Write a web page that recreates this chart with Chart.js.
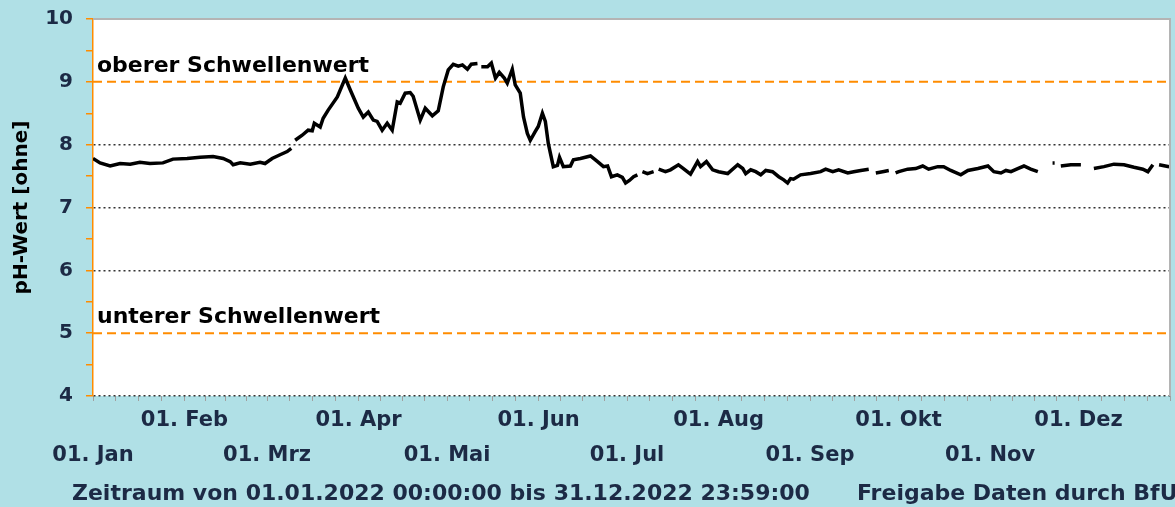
<!DOCTYPE html>
<html>
<head>
<meta charset="utf-8">
<script src="https://cdn.jsdelivr.net/npm/chart.js@4.4.1/dist/chart.umd.min.js"></script>
<style>
html, body { margin: 0; padding: 0; background: #b0e0e6; }
#wrap { width: 1175px; height: 507px; position: relative; }
</style>
</head>
<body>
<div id="wrap"><canvas id="myChart"></canvas></div>
<script>
/*
 pH-Wert 2022, daily values.
 days = day of the year (0 = 01. Jan), ph = value, null = gap in the record
*/
const days = [
  0, 2.4, 5.8, 9.2, 12.6, 15.9, 19.3, 23.7, 27.1, 31.9, 36.3, 40.7, 44.1, 46.5, 47.5, 49.9, 53.3, 56.6, 58.3, 60.7, 63.4, 65.8, 67.2, 67.9,
  68.5, 70.9, 72.9, 74.3, 75.0, 77.0, 78.0, 79.7, 82.8, 85.5, 87.2, 89.9, 91.6, 93.3, 95.0, 96.3, 98.0, 99.7, 101.4, 103.1, 104.1, 105.8, 107.5, 108.5, 110.9, 112.6, 115.0, 117.0, 118.7, 120.4, 122.1, 123.8, 125.2, 126.9, 128.2, 130.3, 131.0,
  131.6, 133.7, 135.0, 136.4, 137.7, 139.4, 140.4, 142.1, 143.1, 144.8, 145.9, 147.2, 148.2, 149.9, 150.9, 152.3, 153.3, 154.3, 156.0, 157.4, 158.1, 159.4, 161.8, 162.8, 165.2, 168.6, 171.0, 173.0, 174.4, 175.7, 177.7, 179.4, 180.5, 181.8, 183.2, 184.5, 185.3,
  186.2, 187.9, 190.0, 190.8,
  191.7, 194.0, 195.7, 198.4, 200.1, 202.5, 204.9, 205.9, 207.9, 210.0, 212.0, 215.1, 218.5, 220.2, 221.2, 222.9, 224.6, 226.3, 228.0, 230.3, 232.4, 234.1, 235.4, 236.4, 237.4, 239.8, 243.2, 246.6, 248.3, 250.7, 252.7, 255.8, 257.8, 260.2, 262.9, 264.0,
  265.3, 267.6, 269.7, 270.8,
  272.0, 273.1, 276.1, 278.8, 281.2, 283.2, 286.3, 288.3, 290.7, 294.1, 296.5, 299.9, 303.3, 305.3, 307.7, 309.4, 311.1, 313.4, 315.5, 317.8, 320.2, 322.0,
  325.2, 325.9, 327.0,
  328.0, 331.4, 334.8, 337.0,
  339.2, 342.6, 346.0, 349.4, 352.8, 355.8, 357.5, 359.2, 360.3,
  361.3, 364.7
];
const ph = [
  7.78, 7.71, 7.66, 7.70, 7.69, 7.72, 7.70, 7.71, 7.77, 7.78, 7.80, 7.81, 7.78, 7.73, 7.68, 7.71, 7.69, 7.72, 7.70, 7.78, 7.84, 7.89, 7.94, null,
  8.07, 8.15, 8.23, 8.22, 8.34, 8.28, 8.42, 8.55, 8.76, 9.06, 8.87, 8.58, 8.44, 8.52, 8.39, 8.37, 8.23, 8.34, 8.23, 8.68, 8.66, 8.82, 8.83, 8.77, 8.39, 8.58, 8.46, 8.54, 8.92, 9.19, 9.28, 9.25, 9.27, 9.20, 9.28, 9.29, null,
  9.24, 9.24, 9.30, 9.06, 9.15, 9.06, 8.98, 9.20, 8.95, 8.82, 8.44, 8.18, 8.07, 8.21, 8.29, 8.50, 8.37, 8.02, 7.65, 7.67, 7.80, 7.65, 7.66, 7.76, 7.78, 7.82, 7.73, 7.65, 7.66, 7.49, 7.52, 7.48, 7.39, 7.43, 7.49, 7.52, null,
  7.57, 7.54, 7.57, null,
  7.61, 7.57, 7.60, 7.68, 7.62, 7.53, 7.73, 7.65, 7.73, 7.60, 7.57, 7.54, 7.68, 7.62, 7.54, 7.60, 7.57, 7.52, 7.59, 7.57, 7.49, 7.44, 7.39, 7.46, 7.45, 7.52, 7.54, 7.57, 7.61, 7.57, 7.60, 7.55, 7.57, 7.59, 7.61, null,
  7.55, 7.57, 7.59, null,
  7.55, 7.57, 7.61, 7.62, 7.66, 7.61, 7.65, 7.65, 7.59, 7.52, 7.59, 7.62, 7.66, 7.57, 7.55, 7.59, 7.57, 7.62, 7.66, 7.61, 7.57, null,
  7.71, 7.71, null,
  7.66, 7.68, 7.68, null,
  7.62, 7.65, 7.69, 7.68, 7.64, 7.61, 7.57, 7.68, null,
  7.68, 7.65
];

const monthStarts = [0, 31, 59, 90, 120, 151, 181, 212, 243, 273, 304, 334, 365];
const monthLabels = ['01. Jan', '01. Feb', '01. Mrz', '01. Apr', '01. Mai', '01. Jun',
                     '01. Jul', '01. Aug', '01. Sep', '01. Okt', '01. Nov', '01. Dez'];

const upperLimit = 9;
const lowerLimit = 5;
const upperText = 'oberer Schwellenwert';
const lowerText = 'unterer Schwellenwert';
const footerLeft = 'Zeitraum von 01.01.2022 00:00:00 bis 31.12.2022 23:59:00';
const footerRight = 'Freigabe Daten durch BfUL';

const NAVY = '#1c2a45';
const ORANGE = '#ff8c00';
const FONT = "'DejaVu Sans', Verdana, sans-serif";

// white plot area, grey frame top/right, threshold captions, footer line
const decoPlugin = {
    id: 'deco',
    beforeDraw(chart) {
        const { ctx, chartArea: a } = chart;
        ctx.save();
        ctx.fillStyle = '#ffffff';
        ctx.fillRect(a.left, a.top, a.right - a.left, a.bottom - a.top);
        ctx.restore();
    },
    afterDraw(chart) {
        const { ctx, chartArea: a } = chart;
        const y = chart.scales.y;
        ctx.save();
        ctx.strokeStyle = '#b4b4b4';
        ctx.lineWidth = 2;
        ctx.beginPath();
        ctx.moveTo(a.left, a.top);
        ctx.lineTo(a.right, a.top);
        ctx.lineTo(a.right, a.bottom);
        ctx.stroke();

        ctx.fillStyle = '#000000';
        ctx.font = 'bold 22px ' + FONT;
        ctx.textBaseline = 'alphabetic';
        ctx.fillText(upperText, a.left + 4, y.getPixelForValue(upperLimit) - 10);
        ctx.fillText(lowerText, a.left + 4, y.getPixelForValue(lowerLimit) - 10);

        ctx.fillStyle = NAVY;
        ctx.font = 'bold 22px ' + FONT;
        ctx.fillText(footerLeft, 72, 500);
        ctx.fillText(footerRight, 857, 500);
        ctx.restore();
    }
};

const context = document.getElementById('myChart').getContext('2d');
const chart = new Chart(context, {
    type: 'line',
    data: {
        datasets: [{
            label: 'pH-Wert',
            data: days.map((d, i) => ({ x: d, y: ph[i] })),
            borderColor: '#000000',
            borderWidth: 3.5,
            pointRadius: 0,
            tension: 0,
            spanGaps: false,
            order: 0
        }, {
            label: upperText,
            data: [{ x: 0, y: upperLimit }, { x: 365, y: upperLimit }],
            borderColor: ORANGE,
            borderWidth: 2,
            borderDash: [9, 5],
            pointRadius: 0,
            order: 1
        }, {
            label: lowerText,
            data: [{ x: 0, y: lowerLimit }, { x: 365, y: lowerLimit }],
            borderColor: ORANGE,
            borderWidth: 2,
            borderDash: [9, 5],
            pointRadius: 0,
            order: 1
        }]
    },
    options: {
        responsive: true,
        maintainAspectRatio: false,
        animation: false,
        layout: { padding: { top: 19, right: 5, left: 0, bottom: 0 } },
        plugins: {
            legend: { display: false },
            tooltip: { enabled: false }
        },
        scales: {
            x: {
                type: 'linear',
                min: 0,
                max: 365,
                afterBuildTicks: (scale) => {
                    const t = [];
                    for (let m = 0; m < 12; m++) {
                        const s = monthStarts[m], len = monthStarts[m + 1] - s;
                        t.push({ value: s });
                        for (let k = 1; k < 4; k++) t.push({ value: s + len * k / 4 });
                    }
                    t.push({ value: 365 });
                    scale.ticks = t;
                },
                afterFit: (scale) => {
                    scale.height = 111;
                    scale.paddingLeft = 0;
                    scale.paddingRight = 0;
                },
                ticks: {
                    autoSkip: false,
                    maxRotation: 0,
                    padding: 2,
                    color: NAVY,
                    font: { family: FONT, size: 21, weight: 'bold', lineHeight: 35 / 21 },
                    callback: (value) => {
                        const m = monthStarts.indexOf(value);
                        if (m < 0 || m > 11) return '';
                        return m % 2 === 0 ? ['', monthLabels[m]] : [monthLabels[m]];
                    }
                },
                grid: {
                    drawOnChartArea: false,
                    drawTicks: true,
                    tickLength: 5,
                    tickColor: '#a0a0a0',
                    tickWidth: 1
                },
                border: { display: false }
            },
            y: {
                min: 4,
                max: 10,
                afterFit: (scale) => {
                    scale.width = 93;
                    scale.paddingTop = 0;
                    scale.paddingBottom = 0;
                },
                title: {
                    display: true,
                    text: 'pH-Wert [ohne]',
                    color: '#000000',
                    font: { family: FONT, size: 20, weight: 'bold' },
                    padding: { top: 10, bottom: 0 }
                },
                ticks: {
                    stepSize: 0.5,
                    padding: 13,
                    color: NAVY,
                    font: { family: FONT, size: 20, weight: 'bold' },
                    callback: (v) => (Number.isInteger(v) ? String(v) : '')
                },
                grid: {
                    drawTicks: true,
                    tickLength: 7,
                    tickColor: ORANGE,
                    tickWidth: 1.5,
                    lineWidth: 1.5,
                    color: (ctx) => {
                        const v = ctx.tick.value;
                        if (!Number.isInteger(v) || v === 10 || v === upperLimit || v === lowerLimit) return 'rgba(0,0,0,0)';
                        return '#333333';
                    }
                },
                border: { display: true, color: ORANGE, width: 1.5, dash: [2, 3] }
            }
        }
    },
    plugins: [decoPlugin]
});
</script>
</body>
</html>
